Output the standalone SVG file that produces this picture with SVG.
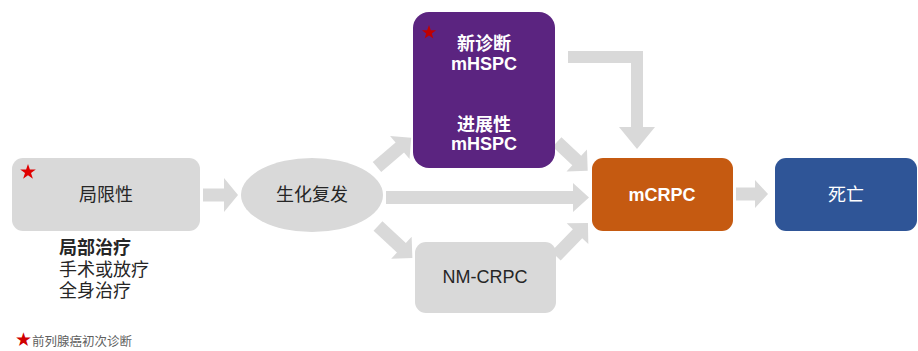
<svg xmlns="http://www.w3.org/2000/svg" width="918" height="351" viewBox="0 0 918 351">
<style>
.arr{fill:#d9d9d9}
.gbox{fill:#d9d9d9}
.t{font-family:"Liberation Sans","Noto Sans CJK SC",sans-serif;text-anchor:middle;dominant-baseline:central}
.dark{fill:#262626;font-size:18px}
.w{fill:#ffffff;font-size:18px;font-weight:bold}
.note{font-family:"Liberation Sans","Noto Sans CJK SC",sans-serif;fill:#262626;font-size:18px}
.star{fill:#e00000}
</style>
<rect width="918" height="351" fill="#ffffff"/>
<g id="connectors">
  <polygon class="arr" points="203,188.5 224,188.5 224,178 238,195 224,212 224,201.5 203,201.5"/>
  <polygon class="arr" points="386,191 573,191 573,183 589,197.5 573,212 573,204 386,204"/>
  <polygon class="arr" points="736,187.5 755,187.5 755,180 768,194 755,208 755,200.5 736,200.5"/>
  <polygon class="arr" points="568,51 643,51 643,127 655,127 637,149 619,127 631,127 631,63 568,63"/>
  <g transform="translate(377,167) rotate(-40.5)"><polygon class="arr" points="0,-6.5 30,-6.5 30,-15 45,0 30,15 30,6.5 0,6.5"/></g>
  <g transform="translate(378,226) rotate(43)"><polygon class="arr" points="0,-6.5 32,-6.5 32,-15 47,0 32,15 32,6.5 0,6.5"/></g>
  <g transform="translate(557,142) rotate(43)"><polygon class="arr" points="0,-6.5 27,-6.5 27,-15 42,0 27,15 27,6.5 0,6.5"/></g>
  <g transform="translate(556,256) rotate(-46)"><polygon class="arr" points="0,-6.5 31,-6.5 31,-15 46,0 31,15 31,6.5 0,6.5"/></g>
</g>
<g id="node-localized">
  <rect class="gbox" x="12" y="158" width="188" height="73" rx="11"/>
  <polygon class="star" points="28,164 29.9,169.6 35.8,169.6 31,173.1 32.9,178.8 28,175.3 23.1,178.8 25,173.1 20.2,169.6 26.1,169.6"/>
  <text class="t dark" x="106" y="195">局限性</text>
</g>
<g id="node-treatment">
  <text class="note" x="59" y="254" font-weight="bold">局部治疗</text>
  <text class="note" x="59" y="276">手术或放疗</text>
  <text class="note" x="59" y="297">全身治疗</text>
</g>
<g id="node-bcr">
  <ellipse class="gbox" cx="312" cy="195" rx="71" ry="37"/>
  <text class="t dark" x="312" y="195">生化复发</text>
</g>
<g id="node-mhspc">
  <rect x="413" y="12" width="142" height="156" rx="16" fill="#5b2480"/>
  <polygon fill="#c00000" points="429,25 430.8,30.2 436.1,30.2 431.8,33.4 433.4,38.6 429,35.4 424.6,38.6 426.2,33.4 421.9,30.2 427.2,30.2"/>
  <text class="t w" x="484" y="44">新诊断</text>
  <text class="t w" x="484" y="64">mHSPC</text>
  <text class="t w" x="484" y="125">进展性</text>
  <text class="t w" x="484" y="144">mHSPC</text>
</g>
<g id="node-nmcrpc">
  <rect class="gbox" x="415" y="242" width="141" height="71" rx="11"/>
  <text class="t dark" x="485" y="277">NM-CRPC</text>
</g>
<g id="node-mcrpc">
  <rect x="592" y="158" width="141" height="73" rx="11" fill="#c55a11"/>
  <text class="t w" x="662" y="195">mCRPC</text>
</g>
<g id="node-death">
  <rect x="775" y="158" width="142" height="73" rx="11" fill="#2f5597"/>
  <text class="t" x="846" y="195" fill="#ffffff" font-size="18">死亡</text>
</g>
<g id="footnote">
  <text x="15" y="346" font-family="'DejaVu Sans','Noto Sans CJK SC',sans-serif" font-size="19" fill="#5f5f5f"><tspan fill="#d00000">★</tspan><tspan font-family="'Liberation Sans','Noto Sans CJK SC',sans-serif" font-size="12.5">前列腺癌初次诊断</tspan></text>
</g>
</svg>
